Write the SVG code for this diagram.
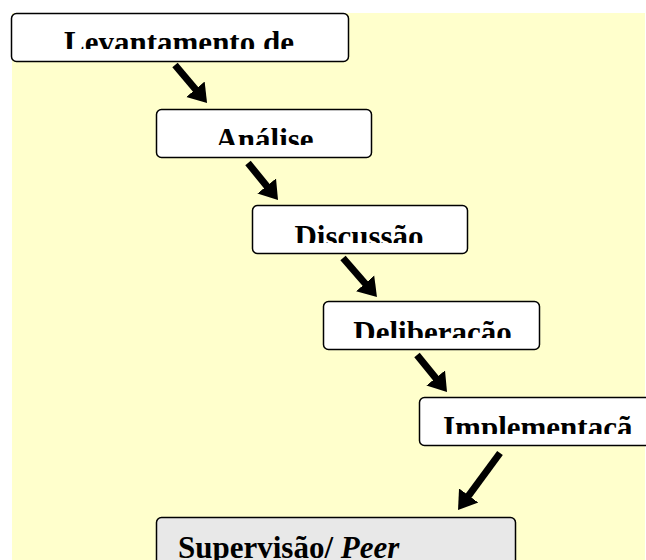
<svg xmlns="http://www.w3.org/2000/svg" width="646" height="560" viewBox="0 0 646 560">
<style>
.box{fill:#ffffff;stroke:#000000;stroke-width:1.5}
.grey{fill:#e8e8e8}
.lbl{font-family:"Liberation Serif","Times New Roman",serif;font-weight:bold;font-size:31px;fill:#000000}
.arr{stroke:#000000;stroke-width:7;fill:none}
</style>
<defs>
<marker id="head" markerUnits="userSpaceOnUse" markerWidth="20" markerHeight="26" viewBox="0 0 20 26" refX="1" refY="13" orient="auto">
<path d="M0,1 L18,13 L0,25 z" fill="#000000"/>
</marker>
<clipPath id="c1"><rect x="12" y="14" width="336" height="35"/></clipPath>
<clipPath id="c2"><rect x="157" y="110" width="214" height="35"/></clipPath>
<clipPath id="c3"><rect x="253" y="206" width="214" height="37"/></clipPath>
<clipPath id="c4"><rect x="324" y="302" width="215" height="36"/></clipPath>
<clipPath id="c5"><rect x="420" y="398" width="226" height="36"/></clipPath>
</defs>
<rect x="12" y="13" width="633" height="547" fill="#ffffcc"/>
<g id="levantamento">
<rect class="box" x="11.5" y="13.5" width="337" height="48" rx="5"/>
<text class="lbl" x="179" y="53" text-anchor="middle" clip-path="url(#c1)">Levantamento de</text>
</g>
<g id="analise">
<rect class="box" x="156.5" y="109.5" width="215" height="48" rx="5"/>
<text class="lbl" x="264.5" y="150" text-anchor="middle" clip-path="url(#c2)">Análise</text>
</g>
<g id="discussao">
<rect class="box" x="252.5" y="205.5" width="215" height="48" rx="5"/>
<text class="lbl" x="359" y="246.5" text-anchor="middle" clip-path="url(#c3)">Discussão</text>
</g>
<g id="deliberacao">
<rect class="box" x="323.5" y="301.5" width="216" height="48" rx="5"/>
<text class="lbl" x="432.5" y="342.5" text-anchor="middle" clip-path="url(#c4)">Deliberação</text>
</g>
<g id="implementacao">
<rect class="box" x="419.5" y="397.5" width="240" height="48" rx="5"/>
<text class="lbl" x="443" y="437.5" clip-path="url(#c5)">Implementaçã</text>
</g>
<g id="supervisao">
<rect class="box grey" x="156.5" y="517.5" width="359" height="60" rx="5"/>
<text class="lbl" x="178" y="557.5">Supervisão/ <tspan font-style="italic">Peer</tspan></text>
</g>
<g id="connectors">
<line class="arr" x1="175" y1="65" x2="196.1" y2="90" marker-end="url(#head)"/>
<line class="arr" x1="248" y1="163" x2="267.3" y2="186.8" marker-end="url(#head)"/>
<line class="arr" x1="343" y1="258" x2="365.8" y2="284.2" marker-end="url(#head)"/>
<line class="arr" x1="417" y1="355" x2="436.3" y2="378.8" marker-end="url(#head)"/>
<line class="arr" x1="500" y1="453" x2="468.1" y2="496.3" marker-end="url(#head)"/>
</g>
</svg>
